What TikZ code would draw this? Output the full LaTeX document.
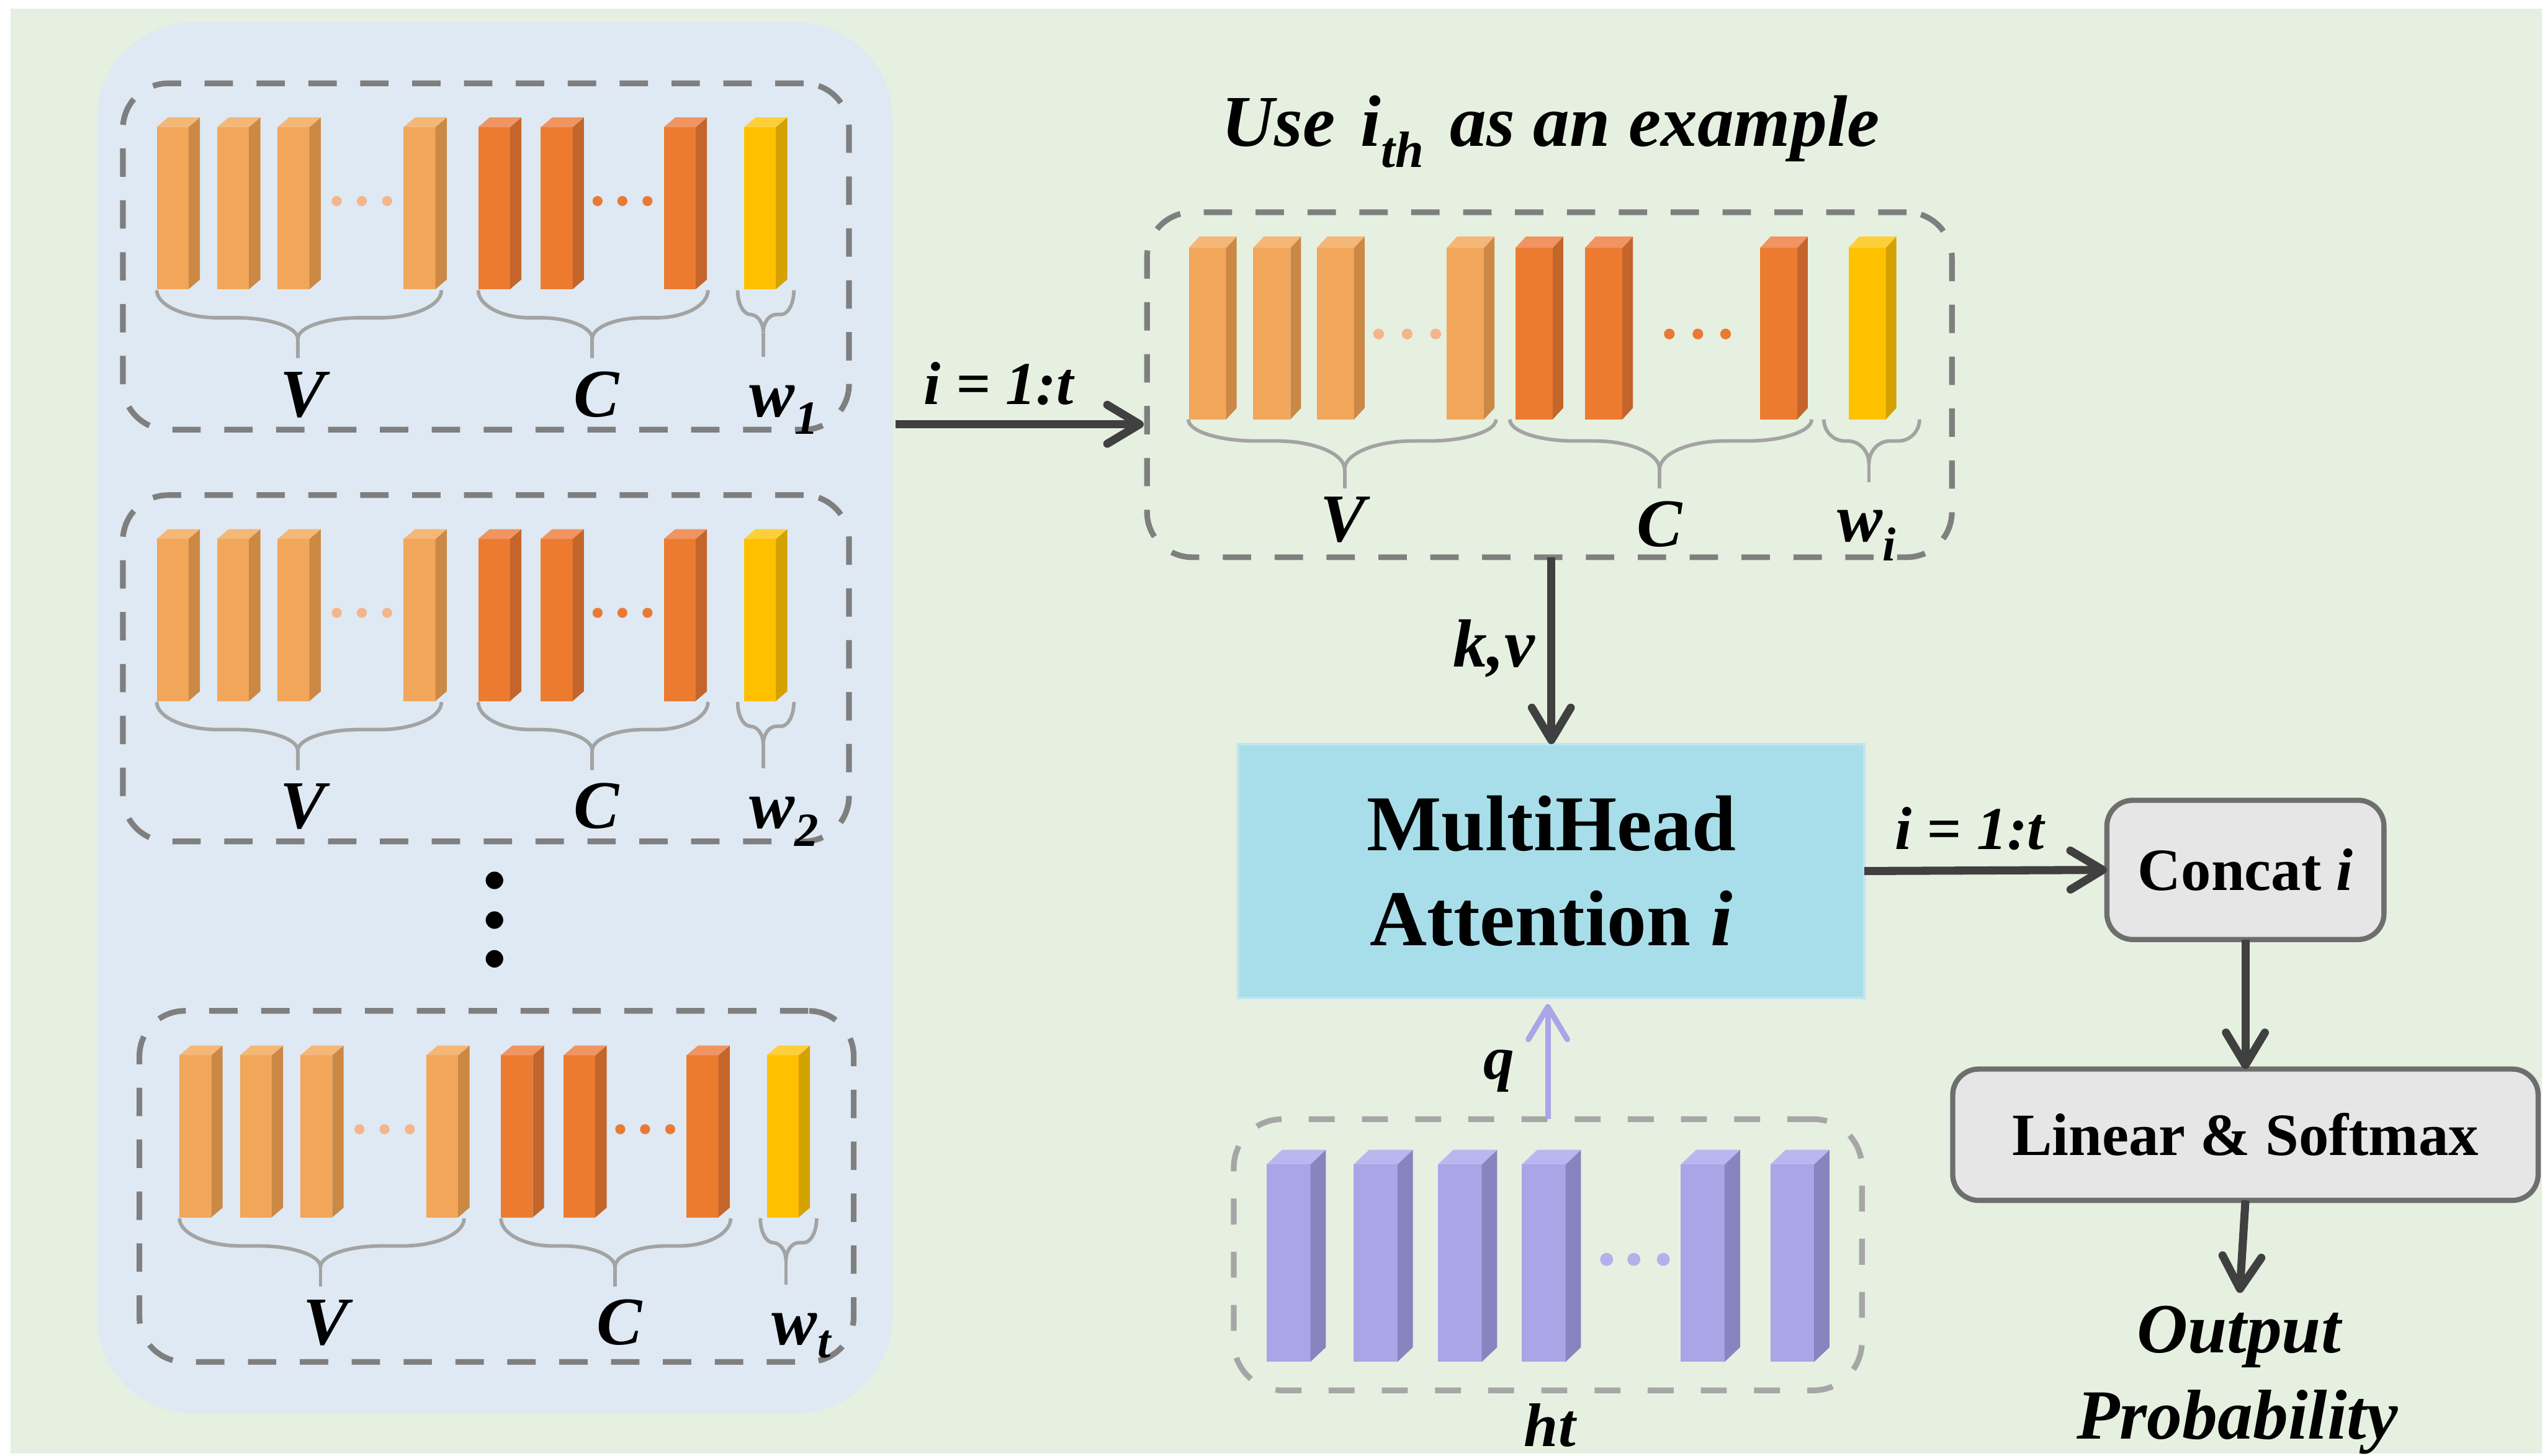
\documentclass[tikz,border=0pt]{standalone}
\usepackage{fontspec}
\setmainfont{Liberation Serif}
\usetikzlibrary{arrows.meta,calc}

\definecolor{bg}{HTML}{E6F0E0}
\definecolor{panelc}{HTML}{DEE9F3}
\definecolor{dashg}{HTML}{7F7F7F}
\definecolor{dashl}{HTML}{A6A6A6}
\definecolor{braceg}{HTML}{A3A3A3}
\definecolor{vF}{HTML}{F2A65A}\definecolor{vS}{HTML}{CC8845}\definecolor{vT}{HTML}{F5B777}
\definecolor{cF}{HTML}{EC7B30}\definecolor{cS}{HTML}{C4652B}\definecolor{cT}{HTML}{F09562}
\definecolor{wF}{HTML}{FFC000}\definecolor{wS}{HTML}{D4A200}\definecolor{wT}{HTML}{FFCF3A}
\definecolor{pF}{HTML}{A9A5E6}\definecolor{pS}{HTML}{8784C0}\definecolor{pT}{HTML}{BAB6EF}
\definecolor{vdot}{HTML}{F4B58A}
\definecolor{cdot}{HTML}{E97A35}
\definecolor{pdot}{HTML}{B4B0EC}
\definecolor{mhafill}{HTML}{A8DEEA}
\definecolor{mhaline}{HTML}{BFE5F0}
\definecolor{graybox}{HTML}{E6E6E6}
\definecolor{grayline}{HTML}{6E6E6E}
\definecolor{arrowc}{HTML}{404040}

% x, ytop(front), w, h, dx, dy, front, side, top
\newcommand\cube[9]{%
  \fill[#7] (#1,#2) rectangle ({#1+#3},{#2+#4});
  \fill[#8] ({#1+#3},#2) -- ({#1+#3+#5},{#2-#6}) -- ({#1+#3+#5},{#2+#4-#6}) -- ({#1+#3},{#2+#4}) -- cycle;
  \fill[#9] (#1,#2) -- ({#1+#5},{#2-#6}) -- ({#1+#3+#5},{#2-#6}) -- ({#1+#3},#2) -- cycle;
}
% x1 x2 xm yt yh ytip yend r
\newcommand\brc[8]{%
  \draw[brace] (#1,#4)
     .. controls (#1,{#4+0.55*(#5-#4)}) and ({#1+0.45*#8},#5) .. ({#1+#8},#5)
     -- ({#3-#8},#5)
     .. controls ({#3-0.45*#8},#5) and (#3,{#5+0.45*(#6-#5)}) .. (#3,#6)
     .. controls (#3,{#5+0.45*(#6-#5)}) and ({#3+0.45*#8},#5) .. ({#3+#8},#5)
     -- ({#2-#8},#5)
     .. controls ({#2-0.45*#8},#5) and (#2,{#4+0.55*(#5-#4)}) .. (#2,#4);
  \draw[brace] (#3,#6) -- (#3,#7);
}
\newcommand\leftgroup[2]{%
  \foreach \xx in {96.7,134,171.3,249} {\cube{\xx}{78.4}{19.6}{100}{7}{6}{vF}{vS}{vT}}
  \foreach \xx in {295,333.6,409.5} {\cube{\xx}{78.4}{19.6}{100}{7}{6}{cF}{cS}{cT}}
  \cube{459}{78.4}{19.6}{100}{7}{6}{wF}{wS}{wT}
  \foreach \xx in {207.7,223.2,238.8} {\fill[vdot] (\xx,124) circle[radius=3.1pt];}
  \foreach \xx in {368.6,383.9,399.4} {\fill[cdot] (\xx,124) circle[radius=3.1pt];}
  \brc{96.7}{272.3}{183.7}{179}{196}{209}{221}{38}
  \brc{295}{436.7}{365.3}{179}{196}{209}{221}{32}
  \brc{455}{489.7}{470.8}{179}{194}{205}{220}{8}
  \node[lab] (#2V) at (187,257) {V};
  \node[lab] (#2C) at (368,257) {C};
  \node[lab, anchor=base west] (#2W) at (462,257) {w\textsubscript{#1}};
}

\begin{document}
\begin{tikzpicture}[x=1pt,y=-1pt,
  dbox/.style={draw=dashg, line width=3.5pt, dash pattern=on 17.5pt off 14.5pt, rounded corners=28pt, inner sep=0pt, outer sep=0pt},
  hbox/.style={draw=dashl, line width=3.5pt, dash pattern=on 16pt off 16.8pt, rounded corners=30pt, inner sep=0pt, outer sep=0pt},
  brace/.style={draw=braceg, line width=2.2pt},
  arr/.style={draw=arrowc, line width=5pt, -{Straight Barb[length=20pt,width=24pt,round]}},
  qarr/.style={draw=pF, line width=3.5pt, -{Straight Barb[length=20pt,width=24pt,round]}},
  lab/.style={font=\fontsize{42}{46}\selectfont\bfseries\itshape, inner sep=0pt, anchor=base},
  slab/.style={font=\fontsize{37.5}{40}\selectfont\bfseries\itshape, inner sep=0pt, anchor=base},
  olab/.style={font=\fontsize{43.5}{46}\selectfont\bfseries\itshape, inner sep=0pt, anchor=base},
  gbox/.style={draw=grayline, fill=graybox, line width=3.2pt, rounded corners=16pt, inner sep=0pt, outer sep=0pt,
     font=\fontsize{37}{40}\selectfont\bfseries},
]
\useasboundingbox (0,0) rectangle (1568,898);
\fill[white] (0,0) rectangle (1568,898);
\fill[bg] (6.5,5.2) rectangle (1568,896.5);

% left panel
\node[fill=panelc, rounded corners=60pt, minimum width=490.9pt, minimum height=858.4pt, inner sep=0pt, outer sep=0pt] (panel) at (305.15,442.8) {};

% three sample boxes
\node[dbox, minimum width=447.9pt, minimum height=213.6pt] (b1) at (299.75,158.2) {};
\node[dbox, minimum width=447.9pt, minimum height=213.6pt] (b2) at (299.75,412.2) {};
\node[dbox, minimum width=440.6pt, minimum height=216.5pt] (b3) at (306.3,731.75) {};
\begin{scope}\leftgroup{\textit{1}}{g1}\end{scope}
\begin{scope}[shift={(0,254)}]\leftgroup{\textit{2}}{g2}\end{scope}
\begin{scope}[shift={(14,572.5)}]\leftgroup{\textit{t}}{g3}\end{scope}
\foreach \yy in {543,567.5,591.4} {\fill[black] (305,\yy) circle[radius=5.4pt];}

% example box
\node[font=\fontsize{45}{48}\selectfont\bfseries\itshape, inner sep=0pt, anchor=base] (title) at (956.6,90)
  {Use\hspace{0.35em}i\textsubscript{th}\hspace{0.35em}as an example};
\node[dbox, minimum width=496.5pt, minimum height=212.8pt] (ex) at (955.75,237.3) {};
\foreach \xx in {733.3,773,812.2,892.3} {\cube{\xx}{152.9}{23}{105.8}{6.5}{7}{vF}{vS}{vT}}
\foreach \xx in {934.7,977.7,1085.6} {\cube{\xx}{152.9}{23}{105.8}{6.5}{7}{cF}{cS}{cT}}
\cube{1140.2}{152.9}{23}{105.8}{6.5}{7}{wF}{wS}{wT}
\foreach \xx in {850.4,868,885.6} {\fill[vdot] (\xx,206) circle[radius=3.3pt];}
\foreach \xx in {1029.7,1047.3,1064.4} {\fill[cdot] (\xx,206) circle[radius=3.3pt];}
\brc{733}{922.8}{829.4}{258.7}{272}{289.5}{301.4}{42}
\brc{931.3}{1117.5}{1023.7}{258.7}{272}{289.5}{301.4}{40}
\brc{1125}{1184}{1152.8}{258.7}{272}{286}{297.5}{13}
\node[lab] (exV) at (828.4,334) {V};
\node[lab] (exC) at (1023.7,337) {C};
\node[lab, anchor=base west] (exW) at (1133,334) {w\textsubscript{i}};

% arrow from panel to example
\coordinate (a0) at (552.2,261.7);
\draw[arr, shorten >=2pt] (a0) -- (a0 -| ex.west);
\node[slab] (it1) at (615.9,249.3) {i = 1:t};

% multihead attention
\node[fill=mhafill, draw=mhaline, line width=1.5pt, minimum width=386.2pt, minimum height=156.5pt, inner sep=0pt, outer sep=0pt,
  align=center, font=\fontsize{48.8}{58.7}\selectfont\bfseries] (mha) at (956.9,537.25) {MultiHead\\Attention \textit{i}};
\draw[arr] (ex.south -| mha.north) -- (mha.north);
\node[lab] (kv) at (921.5,411.5) {k,v};

% ht box
\node[hbox, minimum width=387.5pt, minimum height=167.3pt] (htb) at (954.75,773.95) {};
\foreach \xx in {781.3,835,887,938.7,1036.8,1092} {\cube{\xx}{718.2}{27}{121.8}{9.5}{9}{pF}{pS}{pT}}
\foreach \xx in {991,1007.8,1026} {\fill[pdot] (\xx,776.8) circle[radius=4pt];}
\draw[qarr, shorten >=3.8pt] (htb.north) -- (htb.north |- mha.south);
\node[font=\fontsize{38}{40}\selectfont\bfseries\itshape, inner sep=0pt, anchor=base] (q) at (924.5,665.4) {q};
\node[font=\fontsize{38}{40}\selectfont\bfseries\itshape, inner sep=0pt, anchor=base] (ht) at (956,892) {ht};

% right column
\node[gbox, minimum width=170.9pt, minimum height=85.9pt] (concat) at (1385.05,536.55) {Concat \textit{i}};
\draw[arr] (mha.east) -- (concat.west);
\node[slab] (it2) at (1214.9,523.7) {i = 1:t};
\node[gbox, minimum width=361.1pt, minimum height=81pt] (lin) at (1385.05,699.9) {Linear \& Softmax};
\draw[arr] (concat.south) -- (lin.north);
\node[olab] (out1) at (1381,834.5) {Output};
\node[olab] (out2) at (1380,887.6) {Probability};
\draw[arr, shorten >=8pt] (lin.south) -- (out1.north);
\end{tikzpicture}
\end{document}
